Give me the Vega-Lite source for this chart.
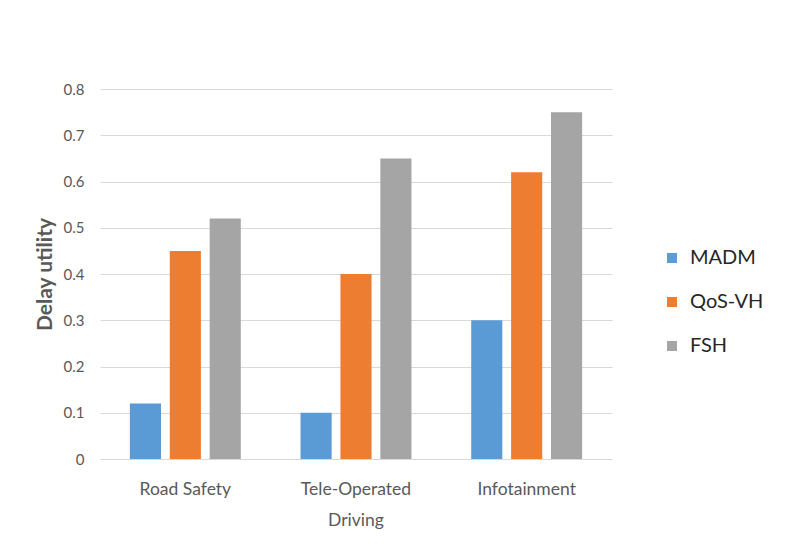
{
  "$schema": "https://vega.github.io/schema/vega-lite/v6.json",
  "autosize": "none",
  "width": 512,
  "height": 370,
  "padding": {"left": 100, "top": 89, "right": 173, "bottom": 100},
  "background": "white",
  "data": {"values": [
    {"category": "Road Safety", "method": "MADM", "value": 0.12},
    {"category": "Road Safety", "method": "QoS-VH", "value": 0.45},
    {"category": "Road Safety", "method": "FSH", "value": 0.52},
    {"category": "Tele-Operated Driving", "method": "MADM", "value": 0.10},
    {"category": "Tele-Operated Driving", "method": "QoS-VH", "value": 0.40},
    {"category": "Tele-Operated Driving", "method": "FSH", "value": 0.65},
    {"category": "Infotainment", "method": "MADM", "value": 0.30},
    {"category": "Infotainment", "method": "QoS-VH", "value": 0.62},
    {"category": "Infotainment", "method": "FSH", "value": 0.75}
  ]},
  "mark": {"type": "bar"},
  "encoding": {
    "x": {
      "field": "category", "type": "nominal",
      "sort": ["Road Safety", "Tele-Operated Driving", "Infotainment"],
      "scale": {"paddingInner": 0.35, "paddingOuter": 0.175},
      "axis": {
        "title": null, "labelAngle": 0, "ticks": false, "domain": false,
        "labelFont": "Lato", "labelFontSize": 17.5, "labelColor": "#595959",
        "labelPadding": 21, "labelLineHeight": 31, "labelBaseline": "top",
        "labelExpr": "datum.label == 'Tele-Operated Driving' ? ['Tele-Operated', 'Driving'] : datum.label"
      }
    },
    "xOffset": {
      "field": "method", "type": "nominal",
      "sort": ["MADM", "QoS-VH", "FSH"],
      "scale": {"paddingInner": 0.22, "paddingOuter": 0}
    },
    "y": {
      "field": "value", "type": "quantitative",
      "scale": {"domain": [0, 0.8], "nice": false},
      "axis": {
        "title": "Delay utility", "values": [0, 0.1, 0.2, 0.3, 0.4, 0.5, 0.6, 0.7, 0.8],
        "labelExpr": "datum.value == 0 ? '0' : format(datum.value, '.1f')",
        "labelOverlap": false,
        "ticks": false, "domain": false,
        "grid": true, "gridColor": "#d9d9d9", "gridWidth": 1,
        "labelFont": "Lato", "labelFontSize": 15, "labelColor": "#595959", "labelPadding": 16,
        "titleFont": "Lato", "titleFontSize": 21, "titleFontWeight": "bold", "titleColor": "#595959",
        "titlePadding": 8
      }
    },
    "color": {
      "field": "method", "type": "nominal",
      "sort": ["MADM", "QoS-VH", "FSH"],
      "scale": {"domain": ["MADM", "QoS-VH", "FSH"], "range": ["#5B9BD5", "#ED7D31", "#A5A5A5"]},
      "legend": {
        "title": null, "orient": "none", "legendX": 562, "legendY": 159,
        "symbolType": "square", "symbolSize": 100, "symbolStrokeWidth": 0,
        "labelFont": "Lato", "labelFontSize": 20, "labelColor": "#262626",
        "labelOffset": 8, "rowPadding": 24
      }
    }
  },
  "config": {"view": {"stroke": null}}
}
